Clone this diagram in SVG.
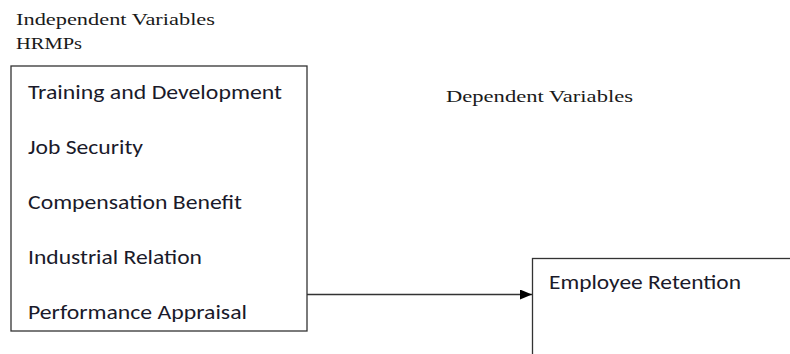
<svg xmlns="http://www.w3.org/2000/svg" width="790" height="354" viewBox="0 0 790 354">
<style>
.serif{font-family:"Liberation Serif","Times New Roman",serif;font-size:17.5px;fill:#1a1a1a}
.sans{font-family:"Carlito","Liberation Sans",Arial,sans-serif;font-size:20.5px;fill:#1a1a2a}
.box{fill:#fff;stroke:#333;stroke-width:1.3}
</style>
<defs>
<marker id="ah" markerWidth="12" markerHeight="10" refX="12" refY="5" orient="auto" markerUnits="userSpaceOnUse">
<path d="M0,0 L12,5 L0,10 Z" fill="#000"/>
</marker>
</defs>
<rect width="790" height="354" fill="#fff"/>
<text class="serif" x="16" y="25" textLength="199" lengthAdjust="spacingAndGlyphs">Independent Variables</text>
<text class="serif" x="16" y="49" textLength="66" lengthAdjust="spacingAndGlyphs">HRMPs</text>
<text class="serif" x="446" y="102" textLength="187" lengthAdjust="spacingAndGlyphs">Dependent Variables</text>
<g id="connectors">
<line x1="307" y1="294.5" x2="532" y2="294.5" stroke="#333" stroke-width="1.3" marker-end="url(#ah)"/>
</g>
<g id="hrmps">
<rect class="box" x="11" y="66" width="296" height="265"/>
<text class="sans" x="28" y="99" textLength="254" lengthAdjust="spacingAndGlyphs">Training and Development</text>
<text class="sans" x="28" y="154" textLength="115" lengthAdjust="spacingAndGlyphs">Job Security</text>
<text class="sans" x="28" y="209" textLength="214" lengthAdjust="spacingAndGlyphs">Compensation Benefit</text>
<text class="sans" x="28" y="264" textLength="174" lengthAdjust="spacingAndGlyphs">Industrial Relation</text>
<text class="sans" x="28" y="319" textLength="219" lengthAdjust="spacingAndGlyphs">Performance Appraisal</text>
</g>
<g id="retention">
<rect class="box" x="532.5" y="258.5" width="270" height="110"/>
<text class="sans" x="549" y="289" textLength="192" lengthAdjust="spacingAndGlyphs">Employee Retention</text>
</g>
</svg>
